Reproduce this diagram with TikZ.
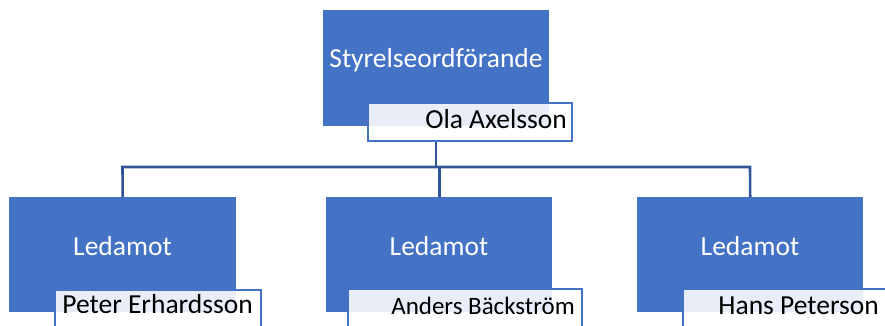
\documentclass[tikz,border=0pt]{standalone}
\usepackage{fontspec}
\setmainfont{Carlito}
\definecolor{accent}{HTML}{4472C4}
\definecolor{linkblue}{HTML}{2F5597}
\begin{document}
\begin{tikzpicture}[x=1pt,y=-1pt,
  rolebox/.style={fill=accent, draw=none, inner sep=0pt, anchor=north west},
  namebox/.style={fill=white, fill opacity=0.88, draw=accent, line width=2.2pt,
    inner sep=0pt, anchor=north west},
  roletext/.style={text=white, font=\fontsize{27.5}{30}\selectfont, inner sep=0pt, anchor=base},
  nametext/.style={text=black, font=\fontsize{27.5}{30}\selectfont, inner sep=0pt, anchor=base east},
  conn/.style={draw=linkblue, line width=2.6pt}]
\useasboundingbox (0,0) rectangle (885,325);
\clip (0,0) rectangle (885,325);

% chair
\node[rolebox, minimum width=226pt, minimum height=116pt] (chair) at (323,10) {};
\node[roletext] (chairlbl) at (436,67) {Styrelseordförande};
\node[namebox, minimum width=204pt, minimum height=38pt] (chairname) at (367,102) {};
\node[nametext] (chairtxt) at (567,128) {Ola Axelsson};

% members
\node[rolebox, minimum width=227pt, minimum height=115pt] (m1) at (9,197) {};
\node[roletext] (m1lbl) at (122.5,255) {Ledamot};
\node[namebox, minimum width=206pt, minimum height=40pt] (m1name) at (54,289) {};
\node[nametext] (m1txt) at (253,313) {Peter Erhardsson};

\node[rolebox, minimum width=226pt, minimum height=115pt] (m2) at (326,197) {};
\node[roletext] (m2lbl) at (439,255) {Ledamot};
\node[namebox, minimum width=234pt, minimum height=40pt] (m2name) at (347,288) {};
\node[nametext, font=\fontsize{25}{28}\selectfont] (m2txt) at (575,314) {Anders Bäckström};

\node[rolebox, minimum width=226pt, minimum height=115pt] (m3) at (637,197) {};
\node[roletext] (m3lbl) at (750,255) {Ledamot};
\node[namebox, minimum width=210pt, minimum height=40pt] (m3name) at (682,288) {};
\node[nametext] (m3txt) at (879,314) {Hans Peterson};

% connectors
\coordinate (drop) at (436,0);
\coordinate (busL) at (122.5,167);
\coordinate (busR) at (750,167);
\draw[conn] (chairname.south -| drop) -- (drop |- busL);
\draw[conn] (m1.north) -- (busL) -- (busR) -- (m3.north);
\draw[conn] (m2.north) -- (m2.north |- busL);
\end{tikzpicture}
\end{document}
